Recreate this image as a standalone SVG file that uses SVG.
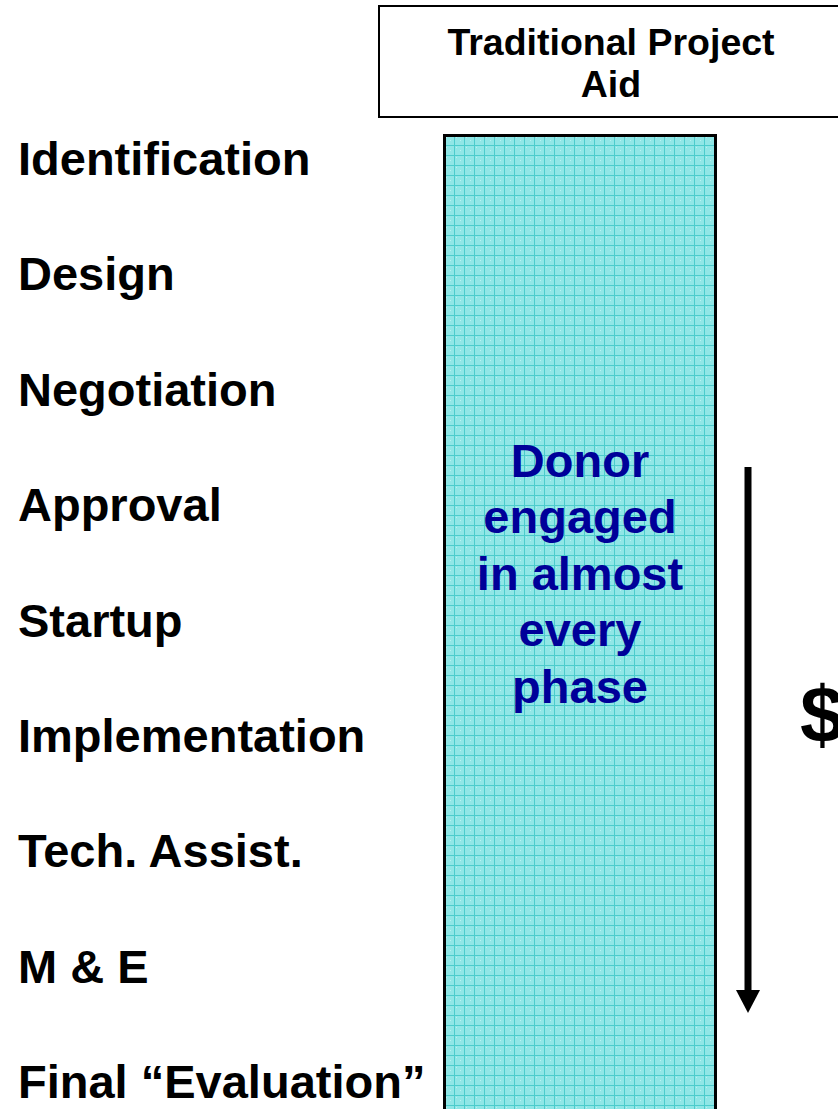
<svg xmlns="http://www.w3.org/2000/svg" width="838" height="1109" viewBox="0 0 838 1109">
  <style>
    .phase { font-family: "Liberation Sans", Arial, sans-serif; font-weight: bold; font-size: 47px; fill: #000; }
    .title { font-family: "Liberation Sans", Arial, sans-serif; font-weight: bold; font-size: 37.5px; fill: #000; text-anchor: middle; }
    .donor { font-family: "Liberation Sans", Arial, sans-serif; font-weight: bold; font-size: 47px; fill: #000099; text-anchor: middle; }
    .money { font-family: "Liberation Sans", Arial, sans-serif; font-weight: bold; font-size: 80px; fill: #000; }
  </style>
  <defs>
    <!-- graph-paper fill for the donor column -->
    <pattern id="grid" x="444" y="135" width="10" height="10" patternUnits="userSpaceOnUse">
      <rect width="10" height="10" fill="#90e6e6"/>
      <rect x="2" y="2" width="1" height="1" fill="#b8f2f2"/>
      <rect x="6" y="5" width="1" height="1" fill="#b8f2f2"/>
      <rect x="0" y="0" width="10" height="1" fill="#4ccccc"/>
      <rect x="0" y="0" width="1" height="10" fill="#4ccccc"/>
    </pattern>
    <!-- filled triangular head, base at the line end -->
    <marker id="head" viewBox="0 0 23 24" refX="0" refY="12" markerWidth="23" markerHeight="24" markerUnits="userSpaceOnUse" orient="auto">
      <path d="M0,0 L23,12 L0,24 Z" fill="#000"/>
    </marker>
  </defs>

  <rect width="838" height="1109" fill="#fff"/>

  <g id="header">
    <rect x="379" y="6" width="470" height="111" fill="#fff" stroke="#000" stroke-width="2"/>
    <text class="title" x="611" y="55">Traditional Project</text>
    <text class="title" x="611" y="97">Aid</text>
  </g>

  <g id="phases">
    <text class="phase" x="18" y="175">Identification</text>
    <text class="phase" x="18" y="290">Design</text>
    <text class="phase" x="18" y="406">Negotiation</text>
    <text class="phase" x="18" y="521">Approval</text>
    <text class="phase" x="18" y="637">Startup</text>
    <text class="phase" x="18" y="752">Implementation</text>
    <text class="phase" x="18" y="867">Tech. Assist.</text>
    <text class="phase" x="18" y="983">M &amp; E</text>
    <text class="phase" x="18" y="1098">Final “Evaluation”</text>
  </g>

  <g id="donor-column">
    <rect x="444.5" y="135.5" width="271" height="990" fill="url(#grid)" stroke="#000" stroke-width="3"/>
    <text class="donor" x="580" y="477">Donor</text>
    <text class="donor" x="580" y="533">engaged</text>
    <text class="donor" x="580" y="590">in almost</text>
    <text class="donor" x="580" y="646">every</text>
    <text class="donor" x="580" y="703">phase</text>
  </g>

  <g id="connectors">
    <line x1="748" y1="467" x2="748" y2="990" stroke="#000" stroke-width="7" marker-end="url(#head)"/>
  </g>

  <g id="money">
    <text class="money" x="800" y="742">$</text>
  </g>
</svg>
